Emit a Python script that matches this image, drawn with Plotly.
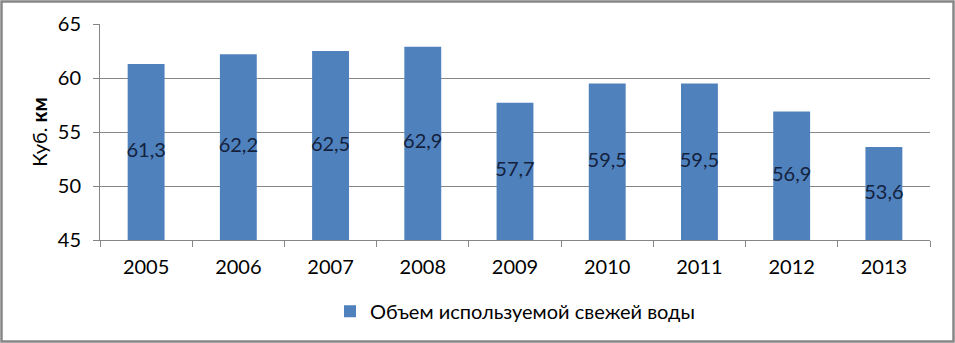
import plotly.graph_objects as go

years = ["2005", "2006", "2007", "2008", "2009", "2010", "2011", "2012", "2013"]
values = [61.3, 62.2, 62.5, 62.9, 57.7, 59.5, 59.5, 56.9, 53.6]
labels = ["61,3", "62,2", "62,5", "62,9", "57,7", "59,5", "59,5", "56,9", "53,6"]
series_name = "Объем используемой свежей воды"
y_ticks = [45, 50, 55, 60, 65]
axis_min = 45

W, H = 955, 343
L, R, T, B = 100, 25, 24, 103
FONT = "Lato"
FS = 20

fig = go.Figure()
fig.add_trace(go.Bar(
    x=years, y=[v - axis_min for v in values], base=axis_min, name=series_name,
    customdata=values,
    hovertemplate="%{x}: %{customdata}<extra></extra>",
    marker=dict(color="#4F81BD", line=dict(width=0)),
    width=0.4,
))
# data labels at the middle of each bar (Excel "center" position)
fig.add_trace(go.Scatter(
    x=years, y=[(axis_min + v) / 2 for v in values], mode="text",
    text=labels, textposition="middle center",
    textfont=dict(family=FONT, size=FS, color="#14213d"),
    showlegend=False, hoverinfo="skip",
))

fig.update_layout(
    width=W, height=H,
    margin=dict(l=L, r=R, t=T, b=B, autoexpand=False),
    paper_bgcolor="white", plot_bgcolor="white",
    font=dict(family=FONT, size=FS, color="#000"),
    showlegend=True,
    legend=dict(orientation="h", x=0.5, xanchor="center", y=-0.24, yanchor="top",
                font=dict(family=FONT, size=FS, color="#000")),
)
fig.update_xaxes(
    type="category", showline=True, linecolor="#868686", linewidth=1,
    ticks="outside", tickson="boundaries", ticklen=6, tickcolor="#868686",
    showgrid=False, tickfont=dict(family=FONT, size=FS, color="#000"),
    ticklabelstandoff=9,
    automargin=False,
)
fig.update_yaxes(
    range=[45, 65], tickvals=y_ticks, ticktext=[str(v) for v in y_ticks],
    showline=True, linecolor="#868686", linewidth=1,
    ticks="outside", ticklen=6, tickcolor="#868686",
    showgrid=True, gridcolor="#868686", gridwidth=1, zeroline=False,
    tickfont=dict(family=FONT, size=FS, color="#000"),
    ticklabelstandoff=8,
    title=dict(text="Куб. <b>км</b>", font=dict(family=FONT, size=FS, color="#000"), standoff=4),
    automargin=False,
)
pw = W - L - R
ph = H - T - B
fig.add_shape(type="rect", xref="paper", yref="paper",
              x0=(1.5 - L) / pw, x1=1 + (R - 1.5) / pw,
              y0=-(B - 1.5) / ph, y1=1 + (T - 1.5) / ph,
              line=dict(color="#868686", width=2.5), fillcolor="rgba(0,0,0,0)", layer="above")

fig.write_html("out.html", config={"displayModeBar": False},
               post_script="document.body.style.margin='0';document.body.style.overflow='hidden';")
